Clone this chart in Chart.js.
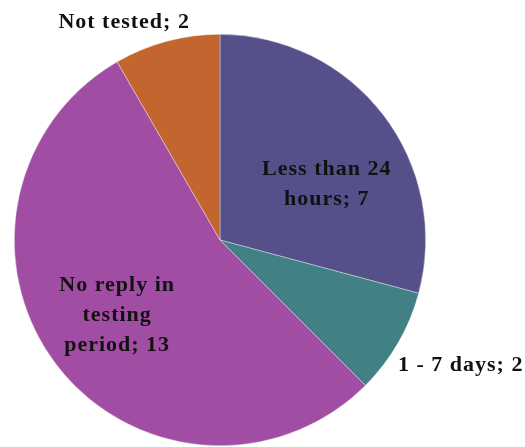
<!DOCTYPE html>
<html>
<head>
<meta charset="utf-8">
<script src="https://cdn.jsdelivr.net/npm/chart.js@4"></script>
<style>
  html, body { margin: 0; padding: 0; background: #fff; }
  #wrap { width: 525px; height: 447px; }
</style>
</head>
<body>
<div id="wrap"><canvas id="grafico" width="525" height="447"></canvas></div>
<script>
// dados
const categorias = ["Less than 24 hours", "1 - 7 days", "No reply in testing period", "Not tested"];
const valores = [7, 2, 13, 2];
const cores = ["#55508A", "#418084", "#A04DA3", "#C3652E"];
// texto das etiquetas (linhas)
const etiquetas = [
    ["Less than 24", "hours; 7"],
    ["1 - 7 days; 2"],
    ["No reply in", "testing", "period; 13"],
    ["Not tested; 2"]
];
// posição das etiquetas relativa ao centro, em fracções do raio
const posEtiquetas = [[0.519, -0.272], [1.17, 0.61], [-0.5, 0.364], [-0.466, -1.06]];

// plugin simples para desenhar as etiquetas
const pluginEtiquetas = {
    id: "etiquetas",
    afterDatasetsDraw(chart) {
        const ctx = chart.ctx;
        const meta = chart.getDatasetMeta(0);
        ctx.save();
        ctx.font = "bold 22px 'Liberation Serif', serif";
        ctx.letterSpacing = "1px";
        ctx.fillStyle = "#111";
        ctx.textAlign = "center";
        ctx.textBaseline = "middle";
        meta.data.forEach((arc, i) => {
            const r = arc.outerRadius;
            const cx = arc.x + posEtiquetas[i][0] * r;
            const cy = arc.y + posEtiquetas[i][1] * r;
            const linhas = etiquetas[i];
            const alt = 30;
            linhas.forEach((l, k) => {
                ctx.fillText(l, cx, cy + (k - (linhas.length - 1) / 2) * alt);
            });
        });
        ctx.restore();
    }
};

new Chart(document.getElementById("grafico"), {
    type: "pie",
    data: {
        labels: categorias,
        datasets: [{
            data: valores,
            backgroundColor: cores,
            borderColor: "rgba(255,255,255,0.6)",
            borderWidth: 0.6
        }]
    },
    options: {
        responsive: false,
        animation: false,
        layout: { padding: { top: 34, bottom: 1, left: 14, right: 99 } },
        plugins: {
            legend: { display: false },
            tooltip: { enabled: false }
        }
    },
    plugins: [pluginEtiquetas]
});
</script>
</body>
</html>
